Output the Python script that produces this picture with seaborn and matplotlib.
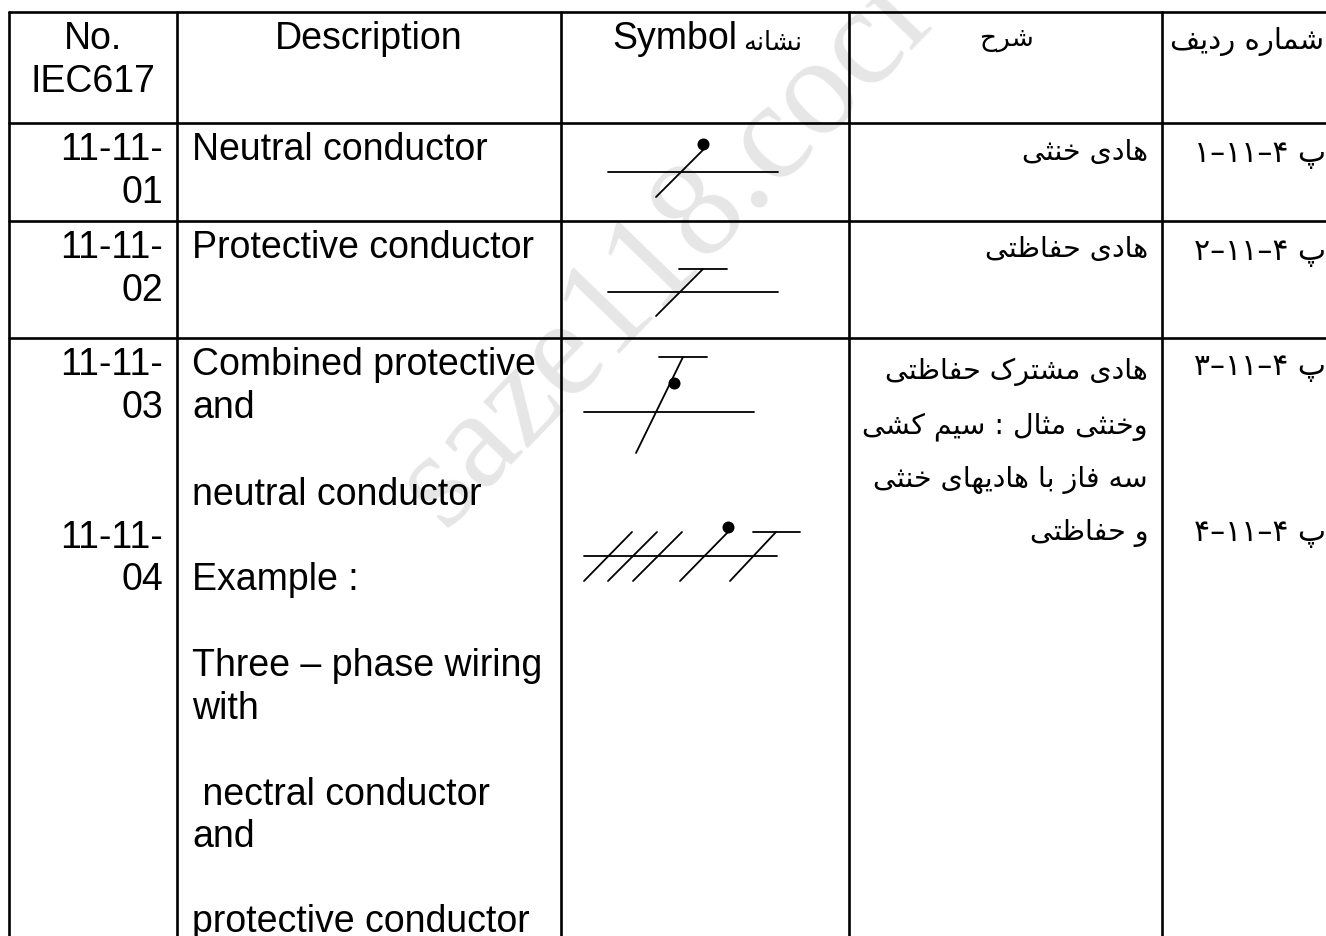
import pandas as pd
import matplotlib
matplotlib.use("Agg")
import matplotlib.pyplot as plt
import seaborn as sns

# Arabic letters -> (isolated, final, initial, medial), matplotlib does no shaping
FORMS = {
    "ا": "\uFE8D\uFE8E", "د": "\uFEA9\uFEAA", "ر": "\uFEAD\uFEAE", "ز": "\uFEAF\uFEB0", "و": "\uFEED\uFEEE",
    "ب": "\uFE8F\uFE90\uFE91\uFE92", "پ": "\uFB56\uFB57\uFB58\uFB59", "ت": "\uFE95\uFE96\uFE97\uFE98",
    "ث": "\uFE99\uFE9A\uFE9B\uFE9C", "ح": "\uFEA1\uFEA2\uFEA3\uFEA4", "خ": "\uFEA5\uFEA6\uFEA7\uFEA8",
    "س": "\uFEB1\uFEB2\uFEB3\uFEB4", "ش": "\uFEB5\uFEB6\uFEB7\uFEB8", "ظ": "\uFEC5\uFEC6\uFEC7\uFEC8",
    "ف": "\uFED1\uFED2\uFED3\uFED4", "ک": "\uFB8E\uFB8F\uFB90\uFB91", "ل": "\uFEDD\uFEDE\uFEDF\uFEE0",
    "م": "\uFEE1\uFEE2\uFEE3\uFEE4", "ن": "\uFEE5\uFEE6\uFEE7\uFEE8", "ه": "\uFEE9\uFEEA\uFEEB\uFEEC",
    "ی": "\uFBFC\uFBFD\uFBFE\uFBFF",
}

# Table text
LATIN_HEADERS = ["No.", "IEC617", "Description", "Symbol"]
NUMBER_LINES = ["11-11-", "01", "11-11-", "02", "11-11-", "03", "11-11-", "04"]
DESCRIPTION_LINES = ["Neutral conductor", "Protective conductor", "Combined protective", "and",
                     "neutral conductor", "Example :", "Three – phase wiring", "with",
                     " nectral conductor", "and", "protective conductor"]
PERSIAN_HEADERS = ["نشانه", "شرح", "شماره ردیف"]
PERSIAN_LINES = ["هادی خنثی", "هادی حفاظتی", "هادی مشترک حفاظتی", "وخنثی مثال : سیم کشی",
                 "سه فاز با هادیهای خنثی", "و حفاظتی"]
ROW_CODES = ["۱–۱۱–۴ پ", "۲–۱۱–۴ پ", "۳–۱۱–۴ پ", "۴–۱۱–۴ پ"]
WATERMARK = "saze118.cocr"

# Table rules, in picture pixels
COLUMN_RULES = [9, 177, 561, 849, 1162]
ROW_RULES = [13, 124, 222, 339]

# Baselines of the text lines
NUMBER_Y = [160, 203, 258, 301, 375, 418, 548, 590]
DESCRIPTION_Y = [160, 258, 375, 418, 505, 590, 676, 719, 805, 847, 932]
PERSIAN_Y = [160, 257, 379, 433, 487, 540]
CODE_Y = [162, 260, 375, 541]

# Symbol strokes as (x0, y0, x1, y1)
SYMBOL_STROKES = [
    (608, 173, 778, 173), (656, 198, 704, 150),
    (608, 293, 778, 293), (656, 317, 703, 270), (679, 270, 727, 270),
    (584, 413, 754, 413), (636, 454, 683, 358), (659, 358, 707, 358),
    (584, 557, 777, 557), (584, 582, 632, 533), (608, 582, 657, 533), (633, 582, 682, 533),
    (680, 582, 728, 533), (730, 582, 776, 533), (753, 533, 800, 533),
]
DOT_X = [703, 674, 728]
DOT_Y = [145, 384, 528]


def shape(text):
    """Turn logical Persian text into joined glyphs in visual order."""
    out = []
    for i, ch in enumerate(text):
        forms = FORMS.get(ch)
        if forms is None:
            out.append(ch)
            continue
        prev = FORMS.get(text[i - 1]) if i > 0 else None
        nxt = text[i + 1] if i + 1 < len(text) else ""
        joins_prev = prev is not None and len(prev) == 4
        joins_next = nxt in FORMS and len(forms) == 4
        if joins_prev and joins_next:
            out.append(forms[3])
        elif joins_next:
            out.append(forms[2])
        elif joins_prev:
            out.append(forms[1])
        else:
            out.append(forms[0])
    return "".join(reversed(out))


def strokes_frame():
    rows = []
    for i, x in enumerate(COLUMN_RULES):
        rows += [("rule", f"c{i}", x, ROW_RULES[0]), ("rule", f"c{i}", x, 937)]
    for i, y in enumerate(ROW_RULES):
        rows += [("rule", f"r{i}", COLUMN_RULES[0], y), ("rule", f"r{i}", 1326, y)]
    for i, (x0, y0, x1, y1) in enumerate(SYMBOL_STROKES):
        rows += [("symbol", f"s{i}", x0, y0), ("symbol", f"s{i}", x1, y1)]
    return pd.DataFrame(rows, columns=["kind", "segment", "x", "y"])


def plot_table():
    sns.set_theme(style="white")
    plt.rcParams["font.family"] = ["Liberation Sans", "DejaVu Sans"]

    fig = plt.figure(figsize=(13.26, 9.37), dpi=100)
    ax = fig.add_axes([0, 0, 1, 1])

    ax.text(444, 530, WATERMARK, family="Liberation Serif", fontsize=100, color="#e6e6e6",
            rotation=46, rotation_mode="anchor", ha="left", va="baseline", zorder=0)

    df = strokes_frame()
    sns.lineplot(data=df[df["kind"] == "rule"], x="x", y="y", units="segment", estimator=None, sort=False,
                 color="black", linewidth=1.9, legend=False, ax=ax, zorder=2)
    sns.lineplot(data=df[df["kind"] == "symbol"], x="x", y="y", units="segment", estimator=None, sort=False,
                 color="black", linewidth=1.3, legend=False, ax=ax, zorder=2)
    sns.scatterplot(x=DOT_X, y=DOT_Y, color="black", s=75, linewidth=0, legend=False, ax=ax, zorder=3)

    latin = dict(family="Liberation Sans", fontsize=27, color="black", va="baseline", zorder=4)
    persian = dict(family="DejaVu Sans", color="black", va="baseline", zorder=4)

    ax.text(93, 49, LATIN_HEADERS[0], ha="center", **latin)
    ax.text(93, 92, LATIN_HEADERS[1], ha="center", **latin)
    ax.text(369, 49, LATIN_HEADERS[2], ha="center", **latin)
    ax.text(612, 49, LATIN_HEADERS[3], ha="left", **latin)
    for label, y in zip(NUMBER_LINES, NUMBER_Y):
        ax.text(163, y, label, ha="right", **latin)
    for label, y in zip(DESCRIPTION_LINES, DESCRIPTION_Y):
        ax.text(192, y, label, ha="left", **latin)

    ax.text(802, 50, shape(PERSIAN_HEADERS[0]), ha="right", fontsize=18.5, **persian)
    ax.text(1007, 46, shape(PERSIAN_HEADERS[1]), ha="center", fontsize=19, **persian)
    ax.text(1170, 49, shape(PERSIAN_HEADERS[2]), ha="left", fontsize=21, **persian)
    for label, y in zip(PERSIAN_LINES, PERSIAN_Y):
        ax.text(1148, y, shape(label), ha="right", fontsize=20.5, **persian)
    for label, y in zip(ROW_CODES, CODE_Y):
        ax.text(1194, y, label.replace("پ", shape("پ")), ha="left", fontsize=21.5, **persian)

    ax.set_xlim(0, 1326)
    ax.set_ylim(937, 0)
    ax.set_axis_off()
    fig.savefig("out.png", dpi=100, facecolor="white")
    plt.close(fig)


if __name__ == '__main__':
    plot_table()
